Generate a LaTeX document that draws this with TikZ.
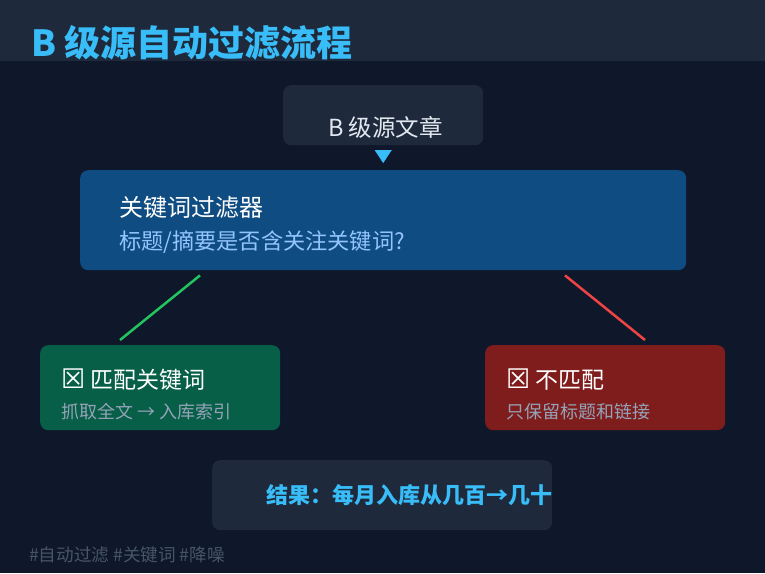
\documentclass[tikz,border=0pt]{standalone}
\usepackage{fontspec}
\setmainfont{Noto Sans CJK SC}
\newfontfamily\dejavu{DejaVu Sans}
\usetikzlibrary{arrows.meta, positioning}
\definecolor{bgdark}{HTML}{0F172A}
\definecolor{panel}{HTML}{1E293B}
\definecolor{skyacc}{HTML}{38BDF8}
\definecolor{lighttext}{HTML}{E2E8F0}
\definecolor{filtblue}{HTML}{0F4C81}
\definecolor{filtsub}{HTML}{93C5FD}
\definecolor{matchbg}{HTML}{065F46}
\definecolor{missbg}{HTML}{7F1D1D}
\definecolor{subgray}{HTML}{94A3B8}
\definecolor{taggray}{HTML}{475569}
\definecolor{linegreen}{HTML}{22C55E}
\definecolor{linered}{HTML}{EF4444}
\newcommand{\tofu}{{\dejavu\fontsize{27}{27}\selectfont ☒}}

\begin{document}
\begin{tikzpicture}[x=1pt, y=-1pt,
    box/.style={rounded corners=8pt, inner sep=0pt, anchor=north west},
    txt/.style={anchor=west, inner sep=0pt}]
    % Background and title bar
    \fill[bgdark] (0,0) rectangle (765,573);
    \fill[panel] (0,0) rectangle (765,61);
    \node[txt, text=skyacc, font=\bfseries\fontsize{36}{42}\selectfont] (title) at (31,43) {B 级源自动过滤流程};

    % Source article
    \node[box, fill=panel, minimum width=200pt, minimum height=60pt] (src) at (283,85) {};
    \node[text=lighttext, inner sep=0pt, font=\fontsize{23.5}{28}\selectfont] (srclabel) at (385.5,127.5) {B 级源文章};

    % Keyword filter
    \node[box, fill=filtblue, minimum width=606pt, minimum height=100pt] (filter) at (80,170) {};
    \node[txt, text=white, font=\fontsize{24}{28}\selectfont] (filtlabel) at (119,207) {关键词过滤器};
    \node[txt, text=filtsub, font=\fontsize{22.2}{26}\selectfont] (filtsub) at (119,242) {标题/摘要是否含关注关键词?};

    \draw[skyacc, -{Triangle[length=13pt, width=17pt]}, shorten <=5pt, shorten >=7pt] (src.south) -- (filter.north);

    % Match / no match
    \node[box, fill=matchbg, minimum width=240pt, minimum height=85pt] (match) at (40,345) {};
    \node[txt, text=white, font=\fontsize{23}{27}\selectfont] (matchlabel) at (61,380) {\tofu\ 匹配关键词};
    \node[txt, text=subgray, font=\fontsize{18}{21}\selectfont] (matchsub) at (61,412) {抓取全文 → 入库索引};

    \node[box, fill=missbg, minimum width=240pt, minimum height=85pt] (miss) at (485,345) {};
    \node[txt, text=white, font=\fontsize{23}{27}\selectfont] (misslabel) at (506,380) {\tofu\ 不匹配};
    \node[txt, text=subgray, font=\fontsize{18}{21}\selectfont] (misssub) at (506,412) {只保留标题和链接};

    \draw[linegreen, line width=2.5pt] ([xshift=120pt, yshift=-5pt]filter.south west) -- ([xshift=80pt, yshift=5pt]match.north west);
    \draw[linered, line width=2.5pt] ([xshift=485pt, yshift=-5pt]filter.south west) -- ([xshift=160pt, yshift=5pt]miss.north west);

    % Result
    \node[box, fill=panel, minimum width=340pt, minimum height=70pt] (result) at (212,460) {};
    \node[txt, text=skyacc, font=\bfseries\fontsize{22}{26}\selectfont] (resultlabel) at (266,495) {结果：每月入库从几百→几十};

    % Tags
    \node[txt, text=taggray, font=\fontsize{17.6}{21}\selectfont] (tags) at (29,555) {\#自动过滤 \#关键词 \#降噪};
\end{tikzpicture}
\end{document}
